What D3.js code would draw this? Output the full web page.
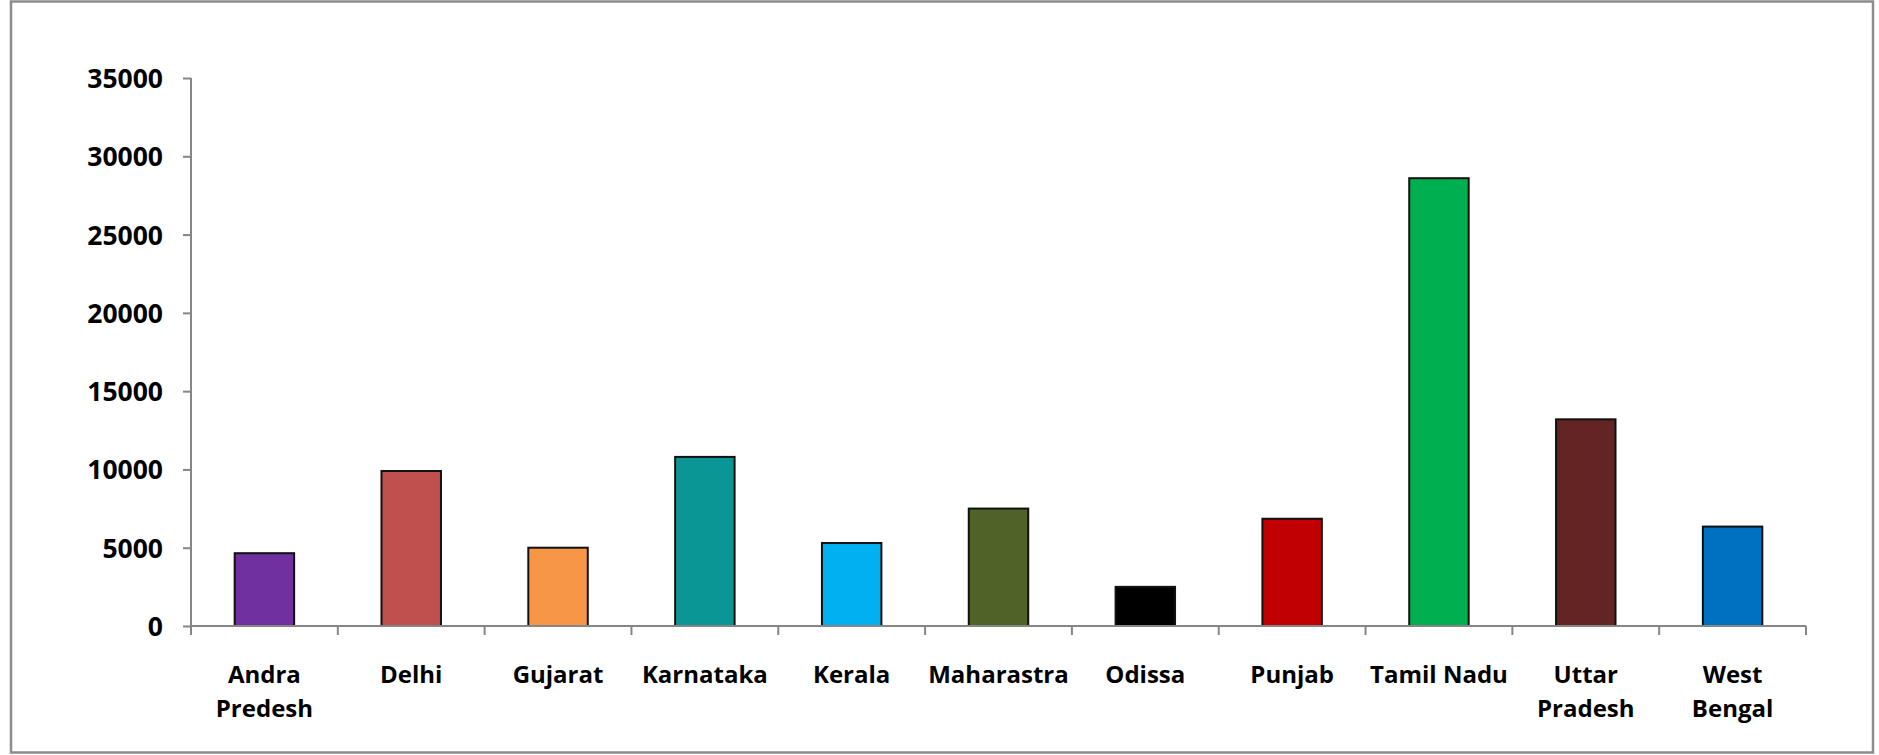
<!DOCTYPE html>
<html>
<head>
<meta charset="utf-8">
<script src="https://cdn.jsdelivr.net/npm/d3@7"></script>
<style>
  html, body { margin: 0; padding: 0; background: #fff; }
  svg { display: block; }
</style>
</head>
<body>
<div id="app"></div>
<script>
const states = ['Andra Predesh', 'Delhi', 'Gujarat', 'Karnataka', 'Kerala', 'Maharastra',
    'Odissa', 'Punjab', 'Tamil Nadu', 'Uttar Pradesh', 'West Bengal'];
const labelLines = [['Andra', 'Predesh'], ['Delhi'], ['Gujarat'], ['Karnataka'], ['Kerala'],
    ['Maharastra'], ['Odissa'], ['Punjab'], ['Tamil Nadu'], ['Uttar', 'Pradesh'], ['West', 'Bengal']];
const values = [4650, 9900, 5000, 10800, 5300, 7500, 2500, 6850, 28600, 13200, 6350];
const barColors = ['#7030A0', '#C0504D', '#F79646', '#0B9696', '#00B0F0', '#4F6228',
    '#000000', '#C00000', '#00B050', '#632523', '#0070C0'];
const yTicks = [0, 5000, 10000, 15000, 20000, 25000, 30000, 35000];

const width = 1879
const height = 755
const margin = { top: 78, right: 73, bottom: 129, left: 191 };
const axisColor = '#868686'
const font = '"Open Sans", sans-serif'

const svg = d3.select('#app').append('svg')
    .attr('width', width)
    .attr('height', height);

// chart frame
svg.append('rect')
    .attr('x', 11).attr('y', 1.5)
    .attr('width', 1862).attr('height', 751)
    .attr('fill', '#fff')
    .attr('stroke', '#8c8c8c')
    .attr('stroke-width', 2.5);

const x = d3.scaleBand()
    .domain(states)
    .range([margin.left, width - margin.right])
    .paddingInner(0.595)
    .paddingOuter(0.2975);

const y = d3.scaleLinear()
    .domain([0, 35000])
    .range([height - margin.bottom, margin.top]);

// y axis
const yAxis = g => g
    .attr('transform', `translate(${margin.left}, 0)`)
    .call(d3.axisLeft(y).tickValues(yTicks).tickSize(8).tickPadding(20).tickFormat(d3.format('d')))
    .call(g => g.select('.domain').remove())
    .call(g => g.selectAll('.tick line').attr('stroke', axisColor).attr('stroke-width', 2))
    .call(g => g.selectAll('.tick text')
        .attr('fill', '#000')
        .attr('font-family', font)
        .attr('font-weight', 700)
        .attr('font-size', 26.5)
        .attr('dy', '0.36em'));

svg.append('g').call(yAxis);

// bars
svg.append('g')
    .selectAll('rect')
    .data(values)
    .join('rect')
    .attr('x', (d, i) => x(states[i]))
    .attr('y', d => y(d))
    .attr('width', x.bandwidth())
    .attr('height', d => y(0) - y(d))
    .attr('fill', (d, i) => barColors[i])
    .attr('stroke', '#111')
    .attr('stroke-width', 2);

// axis lines
const y0 = y(0)
svg.append('line')
    .attr('x1', margin.left).attr('x2', margin.left)
    .attr('y1', margin.top).attr('y2', y0 + 9)
    .attr('stroke', axisColor).attr('stroke-width', 2);
svg.append('line')
    .attr('x1', margin.left).attr('x2', width - margin.right)
    .attr('y1', y0).attr('y2', y0)
    .attr('stroke', axisColor).attr('stroke-width', 2);

// category boundary ticks
const step = x.step()
const bounds = states.map(s => x(s) - (step - x.bandwidth()) / 2).concat([width - margin.right]);
svg.append('g')
    .selectAll('line')
    .data(bounds)
    .join('line')
    .attr('x1', d => d).attr('x2', d => d)
    .attr('y1', y0).attr('y2', y0 + 9)
    .attr('stroke', axisColor).attr('stroke-width', 2);

// category labels
const labels = svg.append('g')
    .attr('font-family', font)
    .attr('font-weight', 700)
    .attr('font-size', 24)
    .attr('text-anchor', 'middle');

labelLines.forEach((lines, i) => {
    const cx = x(states[i]) + x.bandwidth() / 2
    const t = labels.append('text').attr('x', cx).attr('y', 683);
    lines.forEach((ln, j) => {
        t.append('tspan').attr('x', cx).attr('dy', j === 0 ? 0 : 34).text(ln);
    });
});
</script>
</body>
</html>
